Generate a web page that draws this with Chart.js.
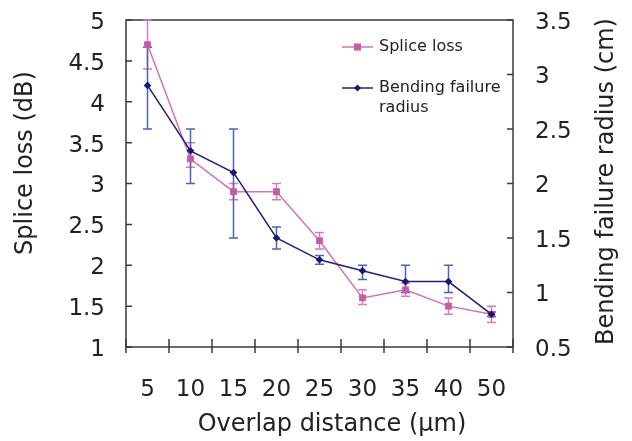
<!DOCTYPE html>
<html>
<head>
<meta charset="utf-8">
<script src="https://cdn.jsdelivr.net/npm/chart.js@4.4.1/dist/chart.umd.min.js"></script>
<style>
    html, body { margin: 0; padding: 0; background: #fff; }
    #wrap { width: 632px; height: 441px; }
</style>
</head>
<body>
<div id="wrap"><canvas id="lossChart" width="632" height="441"></canvas></div>
<script>
// Overlap distance categories (um)
const distances = ['5', '10', '15', '20', '25', '30', '35', '40', '50'];

// Splice loss (dB), left axis, with error bar ends
const spliceLoss     = [4.7, 3.3, 2.9, 2.9, 2.3, 1.6, 1.7, 1.5, 1.4];
const spliceLossHigh = [5.0, 3.5, 3.0, 3.0, 2.4, 1.7, 1.78, 1.6, 1.5];
const spliceLossLow  = [4.4, 3.2, 2.8, 2.8, 2.2, 1.52, 1.62, 1.4, 1.3];

// Bending failure radius (cm), right axis, with error bar ends
const bendRadius     = [2.9, 2.3, 2.1, 1.5, 1.3, 1.2, 1.1, 1.1, 0.8];
const bendRadiusHigh = [3.25, 2.5, 2.5, 1.6, 1.34, 1.25, 1.25, 1.25, 0.82];
const bendRadiusLow  = [2.5, 2.0, 1.5, 1.4, 1.26, 1.12, 1.0, 1.0, 0.78];

const FONT = "'DejaVu Sans', sans-serif";
const TEXT = '#222';
const PINK = '#D273B4';
const PINK_DOT = '#C65AA6';
const PINK_ERR = '#D67DB8';
const NAVY = '#231F7E';
const NAVY_DOT = '#1B1672';
const BLUE_ERR = '#4A64B4';

function fmt(v) { return String(+v.toFixed(1)); }

// keep the plot box exactly where the reference has it
function noEdgePad(s) {
    s.paddingTop = 0; s.paddingBottom = 0;
    s.paddingLeft = 0; s.paddingRight = 0;
}

const decor = {
    id: 'decor',
    beforeDatasetsDraw(chart) {
        const ctx = chart.ctx;
        const a = chart.chartArea;
        const xs = chart.scales.x;
        ctx.save();

        // frame
        ctx.strokeStyle = '#3a3a3a';
        ctx.lineWidth = 1.5;
        ctx.strokeRect(a.left, a.top, a.right - a.left, a.bottom - a.top);

        // x ticks between categories, crossing the axis
        ctx.beginPath();
        const n = distances.length;
        for (let i = 0; i <= n; i++) {
            let px;
            if (i === 0) px = a.left;
            else if (i === n) px = a.right;
            else px = (xs.getPixelForValue(i - 1) + xs.getPixelForValue(i)) / 2;
            ctx.moveTo(px, a.bottom - 8);
            ctx.lineTo(px, a.bottom + 6);
        }
        // y ticks, pointing in
        chart.scales.y.ticks.forEach(t => {
            const py = chart.scales.y.getPixelForValue(t.value);
            ctx.moveTo(a.left, py);
            ctx.lineTo(a.left + 6, py);
        });
        chart.scales.y1.ticks.forEach(t => {
            const py = chart.scales.y1.getPixelForValue(t.value);
            ctx.moveTo(a.right, py);
            ctx.lineTo(a.right - 6, py);
        });
        ctx.stroke();

        // error bars
        const bars = [
            { scale: chart.scales.y, high: spliceLossHigh, low: spliceLossLow, color: PINK_ERR },
            { scale: chart.scales.y1, high: bendRadiusHigh, low: bendRadiusLow, color: BLUE_ERR }
        ];
        bars.forEach(b => {
            ctx.strokeStyle = b.color;
            ctx.lineWidth = 1.5;
            ctx.beginPath();
            for (let i = 0; i < distances.length; i++) {
                const px = xs.getPixelForValue(i);
                const yh = b.scale.getPixelForValue(b.high[i]);
                const yl = b.scale.getPixelForValue(b.low[i]);
                ctx.moveTo(px, yh); ctx.lineTo(px, yl);
                ctx.moveTo(px - 4.5, yh); ctx.lineTo(px + 4.5, yh);
                ctx.moveTo(px - 4.5, yl); ctx.lineTo(px + 4.5, yl);
            }
            ctx.stroke();
        });
        ctx.restore();
    },
    afterDraw(chart) {
        const ctx = chart.ctx;
        const a = chart.chartArea;
        ctx.save();

        // legend
        const lx = a.left + 216;
        ctx.lineWidth = 1.5;
        ctx.strokeStyle = PINK;
        ctx.beginPath(); ctx.moveTo(lx, 47); ctx.lineTo(lx + 31, 47); ctx.stroke();
        ctx.fillStyle = PINK_DOT;
        ctx.fillRect(lx + 15.5 - 3.5, 47 - 3.5, 7, 7);
        ctx.strokeStyle = NAVY;
        ctx.beginPath(); ctx.moveTo(lx, 88); ctx.lineTo(lx + 31, 88); ctx.stroke();
        ctx.fillStyle = NAVY_DOT;
        ctx.beginPath();
        ctx.moveTo(lx + 15.5 - 3.5, 88); ctx.lineTo(lx + 15.5, 84.5);
        ctx.lineTo(lx + 15.5 + 3.5, 88); ctx.lineTo(lx + 15.5, 91.5);
        ctx.closePath(); ctx.fill();

        ctx.fillStyle = TEXT;
        ctx.font = '16px ' + FONT;
        ctx.textAlign = 'left';
        ctx.textBaseline = 'middle';
        ctx.fillText('Splice loss', lx + 37, 47);
        ctx.fillText('Bending failure', lx + 37, 88);
        ctx.fillText('radius', lx + 37, 108);

        // axis titles (placed as in the reference, not centred on the plot)
        ctx.font = '24px ' + FONT;
        ctx.textAlign = 'center';
        ctx.fillText('Overlap distance (μm)', 332, 425);

        ctx.save();
        ctx.translate(26, 163);
        ctx.rotate(-Math.PI / 2);
        ctx.fillText('Splice loss (dB)', 0, 0);
        ctx.restore();

        ctx.translate(607, (a.top + a.bottom) / 2 - 2);
        ctx.rotate(-Math.PI / 2);
        ctx.fillText('Bending failure radius (cm)', 0, 0);
        ctx.restore();
    }
};

new Chart(document.getElementById('lossChart'), {
    type: 'line',
    data: {
        labels: distances,
        datasets: [
            {
                label: 'Splice loss',
                data: spliceLoss,
                yAxisID: 'y',
                borderColor: PINK,
                borderWidth: 1.5,
                backgroundColor: PINK_DOT,
                pointStyle: 'rect',
                pointRadius: 4.8,
                pointBorderWidth: 0,
                tension: 0,
                order: 2
            },
            {
                label: 'Bending failure radius',
                data: bendRadius,
                yAxisID: 'y1',
                borderColor: NAVY,
                borderWidth: 1.5,
                backgroundColor: NAVY_DOT,
                pointStyle: 'rectRot',
                pointRadius: 3.8,
                pointBorderWidth: 0,
                tension: 0,
                order: 1
            }
        ]
    },
    options: {
        responsive: false,
        animation: false,
        layout: { padding: { top: 20, left: 0, right: 0, bottom: 0 } },
        plugins: { legend: { display: false }, tooltip: { enabled: false } },
        scales: {
            x: {
                type: 'category',
                offset: true,
                grid: { display: false, drawTicks: false },
                border: { display: false },
                ticks: { padding: 29, color: TEXT, font: { family: FONT, size: 23 }, maxRotation: 0, autoSkip: false },
                afterFit(s) { s.height = 94; noEdgePad(s); }
            },
            y: {
                position: 'left',
                min: 1, max: 5,
                grid: { display: false, drawTicks: false },
                border: { display: false },
                ticks: { stepSize: 0.5, padding: 21, labelOffset: 3, color: TEXT,
                         font: { family: FONT, size: 23 }, callback: v => fmt(v) },
                afterFit(s) { s.width = 126; noEdgePad(s); }
            },
            y1: {
                position: 'right',
                min: 0.5, max: 3.5,
                grid: { display: false, drawTicks: false },
                border: { display: false },
                ticks: { stepSize: 0.5, padding: 22, labelOffset: 3, color: TEXT,
                         font: { family: FONT, size: 23 }, callback: v => fmt(v) },
                afterFit(s) { s.width = 119; noEdgePad(s); }
            }
        }
    },
    plugins: [decor]
});
</script>
</body>
</html>
